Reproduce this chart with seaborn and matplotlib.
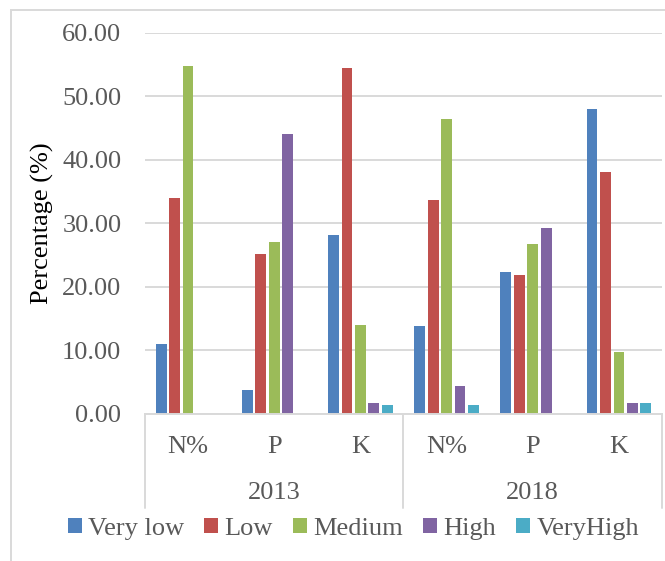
import matplotlib

matplotlib.use("Agg")
import matplotlib.pyplot as plt
import matplotlib.transforms as mtransforms
import pandas as pd
import seaborn as sns
from matplotlib.patches import Rectangle

years = ["2013", "2018"]
nutrients = ["N%", "P", "K"]
levels = ["Very low", "Low", "Medium", "High", "VeryHigh"]
colors = ["#4F81BD", "#C0504D", "#9BBB59", "#8064A2", "#4BACC6"]

# values per level, order: 2013 N%, P, K, 2018 N%, P, K
very_low = [11.0, 3.7, 28.1, 13.8, 22.3, 48.0]
low = [34.0, 25.1, 54.4, 33.6, 21.8, 38.0]
medium = [54.8, 27.0, 14.0, 46.4, 26.7, 9.8]
high = [0.0, 44.0, 1.7, 4.4, 29.2, 1.8]
very_high = [0.0, 0.0, 1.4, 1.4, 0.0, 1.8]

groups = [f"{y} {n}" for y in years for n in nutrients]
rows = []
for lvl, vals in zip(levels, [very_low, low, medium, high, very_high]):
    for g, v in zip(groups, vals):
        rows.append({"group": g, "level": lvl, "value": v})
df = pd.DataFrame(rows)

sns.set_style("white")
plt.rcParams["font.family"] = ["Liberation Serif", "DejaVu Serif"]
grey = "#595959"
line_c = "#d9d9d9"
fs = 19

fig = plt.figure(figsize=(6.65, 5.61), dpi=100)
W, H = 665, 561
ax = fig.add_axes([145 / W, 1 - 414 / H, (662 - 145) / W, (414 - 32.5) / H])

sns.barplot(
    data=df,
    x="group",
    y="value",
    hue="level",
    order=groups,
    hue_order=levels,
    palette=colors,
    saturation=1,
    width=0.78,
    gap=0.2,
    linewidth=0,
    legend=True,
    ax=ax,
)

ax.set_ylim(0, 60)
ax.set_xlim(-0.5, 5.5)
ax.set_yticks(range(0, 61, 10))
ax.set_yticklabels([f"{v:.2f}" for v in range(0, 61, 10)], fontsize=fs, color=grey)
ax.tick_params(axis="y", length=0, pad=17)
ax.tick_params(axis="x", length=0)
ax.set_xticks([])
ax.set_xlabel("")
ax.yaxis.grid(True, color=line_c, linewidth=1.4)
ax.set_axisbelow(True)
for side in ["top", "right", "left"]:
    ax.spines[side].set_visible(False)
ax.spines["bottom"].set_color(line_c)
ax.spines["bottom"].set_linewidth(1.4)

ax.set_ylabel("Percentage (%)", fontsize=fs, color="black")
ax.yaxis.set_label_coords((54 - 145) / (662 - 145), 0.5)

# two-level category axis
trans = mtransforms.blended_transform_factory(ax.transData, ax.transAxes)
ah = 414 - 32.5
for i, g in enumerate(groups):
    ax.text(i, -33 / ah, g.split(" ")[1], transform=trans, ha="center", va="center",
            fontsize=fs, color=grey)
for j, y in enumerate(years):
    ax.text(j * 3 + 1, -79 / ah, y, transform=trans, ha="center", va="center",
            fontsize=fs, color=grey)
for xpos in [-0.5, 2.5, 5.5]:
    ax.plot([xpos, xpos], [0, -94 / ah], transform=trans, color=line_c,
            linewidth=1.4, clip_on=False)

handles, labels = ax.get_legend_handles_labels()
ax.get_legend().remove()
fig.legend(
    handles,
    labels,
    loc="center",
    bbox_to_anchor=(353.5 / W, 1 - 529 / H),
    ncol=5,
    frameon=False,
    fontsize=fs,
    labelcolor=grey,
    handlelength=0.52,
    handleheight=0.52,
    handletextpad=0.25,
    columnspacing=0.76,
    borderaxespad=0,
)

fig.patches.append(
    Rectangle((11 / W, -0.1), 1.2, 1 - 10 / H + 0.1, transform=fig.transFigure,
              fill=False, edgecolor=line_c, linewidth=1.4)
)

fig.savefig("out.png", dpi=100)
